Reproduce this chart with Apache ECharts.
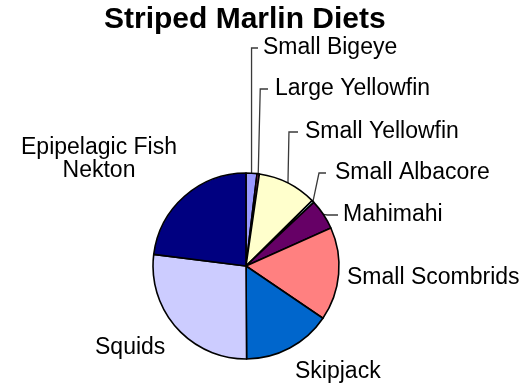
<!DOCTYPE html>
<html>
<head>
<meta charset="utf-8">
<script src="https://cdn.jsdelivr.net/npm/echarts@6/dist/echarts.min.js"></script>
<style>
  html, body { margin: 0; padding: 0; background: #fff; }
  #chart { width: 527px; height: 386px; }
</style>
</head>
<body>
<div id="chart"></div>
<script>
// Prey groups in the striped marlin diet, clockwise from 12 o'clock
const categories = [
  'Small Bigeye',
  'Large Yellowfin',
  'Small Yellowfin',
  'Small Albacore',
  'Mahimahi',
  'Small Scombrids',
  'Skipjack',
  'Squids',
  'Epipelagic Fish\nNekton'
];

// Share of the diet (%)
const dietShares = [1.9, 0.4, 10.3, 0.4, 5.3, 16.2, 15.4, 27.1, 23.0];

// Classic spreadsheet pie palette
const sliceColors = ['#9999FF', '#993366', '#FFFFCC', '#CCFFFF', '#660066',
                     '#FF8080', '#0066CC', '#CCCCFF', '#000080'];

// Where each label sits; slices with a leader get an elbow line
const labelSpots = [
  { x: 263, y: 48,  align: 'left',   bend: 0, gap: 5 },
  { x: 275, y: 89,  align: 'left',   bend: 2, gap: 7 },
  { x: 305, y: 132, align: 'left',   bend: 1, gap: 7 },
  { x: 335, y: 173, align: 'left',   bend: 6, gap: 9 },
  { x: 343, y: 215, align: 'left',   bend: 4, gap: 5 },
  { x: 347, y: 278, align: 'left' },
  { x: 295, y: 372, align: 'left' },
  { x: 95,  y: 348, align: 'left' },
  { x: 99,  y: 159, align: 'center' }
];

const seriesData = categories.map((name, i) => ({
  name: name,
  value: dietShares[i],
  itemStyle: { color: sliceColors[i] },
  labelLine: { show: labelSpots[i].bend != null }
}));

const chart = echarts.init(document.getElementById('chart'), null, { renderer: 'canvas' });

chart.setOption({
  animation: false,
  backgroundColor: '#ffffff',
  title: {
    text: 'Striped Marlin Diets',
    left: 104,
    top: 5,
    padding: 0,
    textStyle: {
      fontFamily: 'Liberation Sans',
      fontWeight: 'bold',
      fontSize: 30,
      color: '#000000'
    }
  },
  series: [{
    type: 'pie',
    center: [246, 266],
    radius: 93,
    startAngle: 90,
    clockwise: true,
    avoidLabelOverlap: false,
    silent: true,
    itemStyle: {
      borderColor: '#000000',
      borderWidth: 1.6
    },
    label: {
      show: true,
      position: 'outside',
      color: '#000000',
      fontFamily: 'Liberation Sans',
      fontSize: 23,
      lineHeight: 23
    },
    labelLine: {
      show: true,
      length: 10,
      length2: 10,
      lineStyle: { color: '#3a3a3a', width: 1.3 }
    },
    labelLayout: function (params) {
      const spot = labelSpots[params.dataIndex];
      const out = {
        x: spot.x,
        y: spot.y,
        align: spot.align,
        verticalAlign: 'middle'
      };
      if (spot.bend != null && params.labelLinePoints) {
        const p0 = params.labelLinePoints[0];
        out.labelLinePoints = [
          [p0[0], p0[1]],
          [p0[0] + spot.bend, spot.y],
          [spot.x - spot.gap, spot.y]
        ];
      }
      return out;
    },
    data: seriesData
  }]
});
</script>
</body>
</html>
